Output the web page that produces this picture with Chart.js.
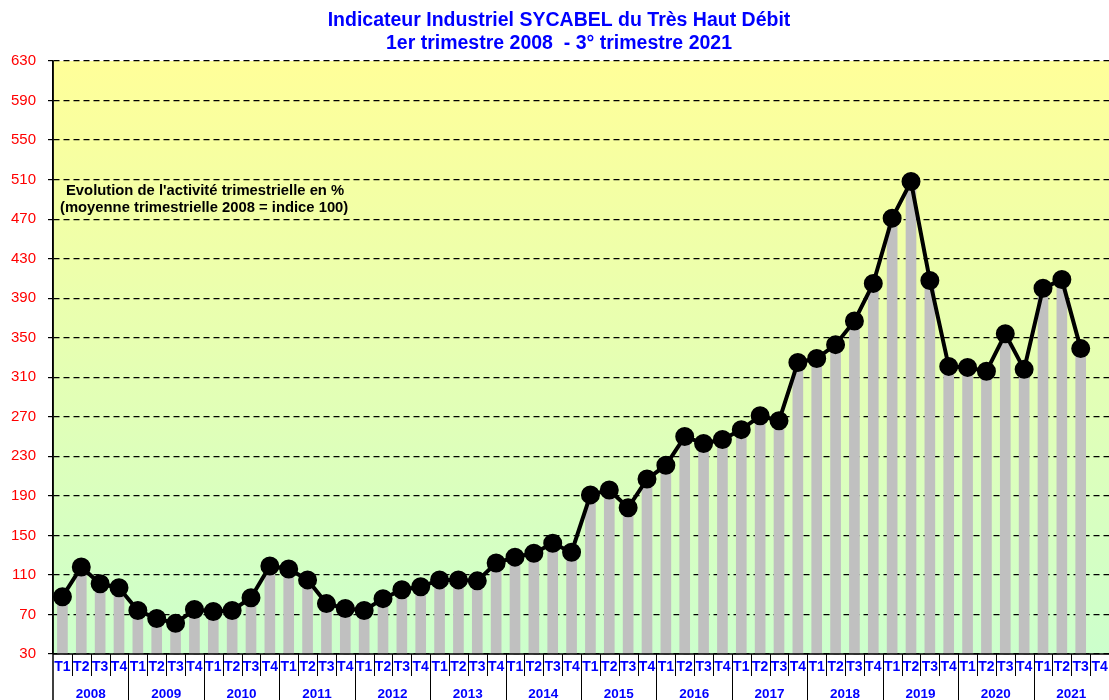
<!DOCTYPE html>
<html>
<head>
<meta charset="utf-8">
<script src="https://cdn.jsdelivr.net/npm/chart.js@4"></script>
<style>
  body { margin: 0; background: #fff; overflow: hidden; }
</style>
</head>
<body>
<canvas id="sycabelChart" width="1109" height="700"></canvas>
<script>
// données (indice, moyenne 2008 = 100)
const years = ['2008', '2009', '2010', '2011', '2012', '2013', '2014', '2015', '2016', '2017', '2018', '2019', '2020', '2021'];
const quarters = ['T1', 'T2', 'T3', 'T4'];
const indexValues = [
    88, 118, 101, 97,
    74, 66, 61, 75,
    73, 74, 87, 119,
    116, 105, 81, 76,
    74, 86, 95, 98,
    105, 105, 104, 122,
    128, 132, 142, 133,
    191, 196, 178, 207,
    221, 250, 243, 247,
    257, 271, 266, 325,
    329, 343, 367, 405,
    471, 508, 408, 321,
    320, 316, 354, 318,
    400, 409, 339
];
const yTicks = [30, 70, 110, 150, 190, 230, 270, 310, 350, 390, 430, 470, 510, 550, 590, 630];
const titleLines = ['Indicateur Industriel SYCABEL du Très Haut Débit', '1er trimestre 2008  - 3° trimestre 2021'];
const noteLines = ["Evolution de l'activité trimestrielle en %", '(moyenne trimestrielle 2008 = indice 100)'];

const labels = [];
years.forEach(y => quarters.forEach(q => labels.push(q + ' ' + y)));

const blue = '#0000FF';
const font = 'Arial, "Liberation Sans", sans-serif';

const decorPlugin = {
    id: 'decor',
    beforeDraw(chart) {
        const { ctx, chartArea: a } = chart;
        ctx.save();
        ctx.fillStyle = '#fff';
        ctx.fillRect(0, 0, chart.width, chart.height);
        const g = ctx.createLinearGradient(0, a.top, 0, a.bottom);
        g.addColorStop(0, '#FFFF99');
        g.addColorStop(1, '#CCFFCC');
        ctx.fillStyle = g;
        ctx.fillRect(a.left, a.top, a.right - a.left, a.bottom - a.top);
        ctx.restore();
    },
    afterDraw(chart) {
        const { ctx, chartArea: a } = chart;
        const x = chart.scales.x;
        const step = (a.right - a.left) / labels.length;
        ctx.save();

        // titre
        ctx.fillStyle = blue;
        ctx.textAlign = 'center';
        ctx.textBaseline = 'middle';
        ctx.font = 'bold 19.5px ' + font;
        ctx.fillText(titleLines[0], 559, 21);
        ctx.fillText(titleLines[1], 559, 44);

        // note
        ctx.fillStyle = '#000';
        ctx.textAlign = 'left';
        ctx.font = 'bold 14.8px ' + font;
        ctx.fillText(noteLines[0], 66, 191);
        ctx.fillText(noteLines[1], 60, 208);

        // axes
        ctx.setLineDash([]);
        ctx.strokeStyle = '#000';
        ctx.lineWidth = 1.5;
        ctx.beginPath();
        ctx.moveTo(a.left, a.bottom);
        ctx.lineTo(a.right, a.bottom);
        ctx.moveTo(a.left, a.top);
        ctx.lineTo(a.left, chart.height);
        ctx.stroke();

        ctx.lineWidth = 1;
        ctx.beginPath();
        for (let i = 1; i <= labels.length; i++) {
            const bx = Math.round(a.left + i * step) + 0.5;
            ctx.moveTo(bx, a.bottom);
            ctx.lineTo(bx, i % 4 === 0 ? chart.height : a.bottom + 22);
        }
        ctx.stroke();

        ctx.fillStyle = blue;
        ctx.textAlign = 'center';
        ctx.font = 'bold 14px ' + font;
        labels.forEach((l, i) => {
            ctx.fillText(quarters[i % 4], x.getPixelForValue(i), a.bottom + 13);
        });
        ctx.font = 'bold 13.5px ' + font;
        years.forEach((y, j) => {
            ctx.fillText(y, a.left + (j * 4 + 2) * step, a.bottom + 40);
        });
        ctx.restore();
    }
};

new Chart(document.getElementById('sycabelChart'), {
    type: 'bar',
    data: {
        labels: labels,
        datasets: [{
            type: 'line',
            data: indexValues,
            borderColor: '#000',
            borderWidth: 4,
            pointRadius: 7.5,
            pointBackgroundColor: '#000',
            pointBorderColor: '#000',
            tension: 0,
            order: 0
        }, {
            data: indexValues,
            backgroundColor: '#C0C0C0',
            barThickness: 10,
            order: 1
        }]
    },
    options: {
        responsive: false,
        animation: false,
        events: [],
        layout: { autoPadding: false, padding: { top: 61, bottom: 46, left: 0, right: -2 } },
        plugins: { legend: { display: false }, tooltip: { enabled: false }, title: { display: false } },
        scales: {
            x: { display: false },
            y: {
                min: 30,
                max: 630,
                afterBuildTicks(scale) {
                    scale.ticks = yTicks.map(v => ({ value: v }));
                },
                afterFit(scale) {
                    scale.width = 53;
                },
                ticks: {
                    color: '#FF0000',
                    padding: 12,
                    font: { family: font, size: 15 }
                },
                grid: {
                    color: '#000',
                    lineWidth: 1.2,
                    tickLength: 5,
                    tickBorderDash: [],
                    tickColor: '#000',
                    tickWidth: 1.2
                },
                border: { display: true, color: '#000', width: 1.5, dash: [6, 4] }
            }
        }
    },
    plugins: [decorPlugin]
});
</script>
</body>
</html>
